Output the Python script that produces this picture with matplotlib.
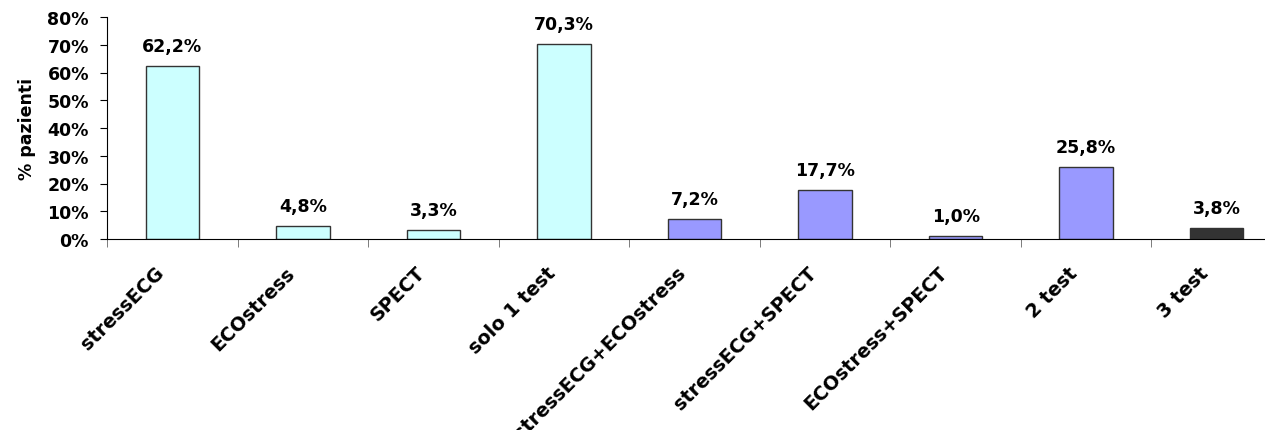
import matplotlib.pyplot as plt
import matplotlib.transforms as mtransforms
from matplotlib.ticker import FixedLocator, PercentFormatter

plt.rcParams['font.family'] = ['DejaVu Sans']

categorie = ['stressECG', 'ECOstress', 'SPECT', 'solo 1 test',
             'stressECG+ECOstress', 'stressECG+SPECT', 'ECOstress+SPECT',
             '2 test', '3 test']
valori = [62.2, 4.8, 3.3, 70.3, 7.2, 17.7, 1.0, 25.8, 3.8]
colori = ['#CCFFFF', '#CCFFFF', '#CCFFFF', '#CCFFFF',
          '#9999FF', '#9999FF', '#9999FF', '#9999FF', '#333333']

fig = plt.figure(figsize=(12.65, 4.31), dpi=100)
ax = fig.add_axes([107 / 1265, 1 - 240 / 431, 1 - 107 / 1265, (240 - 18) / 431])

x = list(range(len(categorie)))
ax.bar(x, valori, width=0.41, color=colori, edgecolor='#333333', linewidth=1)

for xi, v in zip(x, valori):
    ax.annotate('{:.1f}%'.format(v).replace('.', ','), (xi, v),
                xytext=(0, 8), textcoords='offset points',
                ha='center', va='bottom', fontsize=12.5, fontweight='bold')

ax.set_xlim(-0.5, 8.37)
ax.set_ylim(0, 80)
ax.set_yticks(range(0, 81, 10))
ax.yaxis.set_major_formatter(PercentFormatter(decimals=0))
ax.set_ylabel('% pazienti', fontsize=12.5, fontweight='bold', labelpad=8)

ax.set_xticks(x)
ax.set_xticklabels(categorie, rotation=45, ha='right', rotation_mode='anchor',
                   fontsize=13.8, fontweight='bold')
ax.tick_params(axis='x', which='major', length=0, pad=17)
sposta = mtransforms.ScaledTranslation(-13 / 72, 0, fig.dpi_scale_trans)
for t in ax.get_xticklabels():
    t.set_transform(t.get_transform() + sposta)
ax.xaxis.set_minor_locator(FixedLocator([i - 0.5 for i in range(len(categorie) + 1)]))
ax.tick_params(axis='x', which='minor', length=6, color='#666666')
ax.tick_params(axis='y', length=5, pad=8, labelsize=12.5)
for t in ax.get_yticklabels():
    t.set_fontweight('bold')

ax.spines['top'].set_visible(False)
ax.spines['right'].set_visible(False)

fig.savefig('out.png', dpi=100)
